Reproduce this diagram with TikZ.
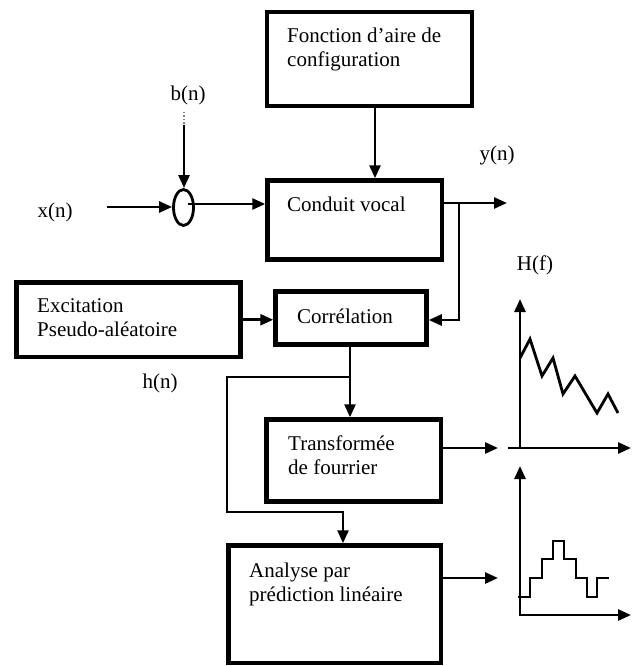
\documentclass[tikz,border=0pt]{standalone}
\usepackage{fontspec}
\setmainfont{Liberation Serif}
\usetikzlibrary{arrows.meta,shapes.geometric}
\begin{document}
\begin{tikzpicture}[x=1pt,y=-1pt,
  box/.style={draw,line width=4.5pt,inner sep=0pt},
  lbl/.style={anchor=base west,inner sep=0pt,font=\fontsize{21}{25}\selectfont},
  tag/.style={inner sep=0pt,font=\fontsize{21}{25}\selectfont},
  arr/.style={line width=2.6pt,-{Triangle[length=13pt,width=11pt]}},
  curve/.style={line width=2.8pt,line join=miter}]
\useasboundingbox (0,0) rectangle (634,666);
% boxes (border centre lines)
\node[box,minimum width=205pt,minimum height=94pt] (fonc) at (369.5,59) {};
\node[box,minimum width=174.5pt,minimum height=79pt] (cond) at (354.75,220) {};
\node[box,minimum width=151pt,minimum height=53pt] (corr) at (351,318) {};
\node[box,minimum width=224pt,minimum height=74.5pt] (exc) at (128.5,319.75) {};
\node[box,minimum width=174.5pt,minimum height=82pt] (tf) at (353.75,460.5) {};
\node[box,minimum width=212.5pt,minimum height=117.5pt] (ana) at (334.75,604.25) {};
% box texts
\node[lbl] (t1) at (287,43) {Fonction d’aire de};
\node[lbl] (t2) at (287,67) {configuration};
\node[lbl] (t3) at (287,211) {Conduit vocal};
\node[lbl] (t4) at (297,323) {Corrélation};
\node[lbl] (t5) at (37,312) {Excitation};
\node[lbl] (t6) at (37,336) {Pseudo-aléatoire};
\node[lbl] (t7) at (288,450) {Transformée};
\node[lbl] (t8) at (288,474) {de fourrier};
\node[lbl] (t9) at (249,577) {Analyse par};
\node[lbl] (t10) at (249,601) {prédiction linéaire};
% signal labels
\node[tag] (xn) at (55,212) {x(n)};
\node[tag] (bn) at (188,95) {b(n)};
\node[tag] (yn) at (497,155) {y(n)};
\node[tag] (Hf) at (535,265) {H(f)};
\node[tag] (hn) at (160,383) {h(n)};
% summing ellipse
\node[draw,ellipse,line width=2.8pt,minimum width=20pt,minimum height=36pt,inner sep=0pt] (sum) at (183.5,207.5) {};
% connectors
\coordinate (xs) at (107,207);
\draw[arr] (xs) -- (xs -| sum.west);
\coordinate (bs) at (184,112);
\coordinate (bm) at (184,125);
\draw[line width=1.4pt,dotted,gray] (bs) -- (bm);
\draw[arr] (bm) -- (bm |- sum.north);
\coordinate (so) at (188,204);
\draw[arr] (so) -- (so -| cond.west);
\path (fonc.south) ++(5.5,0) coordinate (fa);
\draw[arr] (fa) -- (fa |- cond.north);
\coordinate (yo) at (507,203);
\coordinate (br) at (459,203);
\coordinate (ci) at (459,320);
\draw[arr] (cond.east |- yo) -- (yo);
\draw[arr] (br) -- (ci) -- (ci -| corr.east);
\draw[arr] (exc.east) -- (exc.east -| corr.west);
\coordinate (cs) at (350,344.5);
\draw[arr] (cs) -- (cs |- tf.north);
\coordinate (hb) at (350,377);
\coordinate (hl) at (227,512);
\coordinate (ha) at (343,512);
\draw[arr] (hb) -| (hl) -- (ha) -- (ha |- ana.north);
\coordinate (to) at (498,448);
\draw[arr] (tf.east |- to) -- (to);
\coordinate (ao) at (498,578);
\draw[arr] (ana.east |- ao) -- (ao);
% plot 1: H(f)
\draw[arr] (520,448) -- (520,299);
\draw[arr] (508,448) -- (631,448);
\draw[curve] (520,358) -- (530,339) -- (542,376) -- (553,358) -- (563,394) -- (575,376) -- (597,413) -- (608,394) -- (618,413);
% plot 2
\draw[arr] (520,615) -- (520,466);
\draw[arr] (518.7,615) -- (631,615);
\draw[curve] (518,597) -- (530,597) -- (530,578) -- (542,578) -- (542,559) -- (553,559) -- (553,541) -- (564,541) -- (564,559) -- (576,559) -- (576,578) -- (587,578) -- (587,597) -- (597,597) -- (597,578) -- (609,578);
\end{tikzpicture}
\end{document}
